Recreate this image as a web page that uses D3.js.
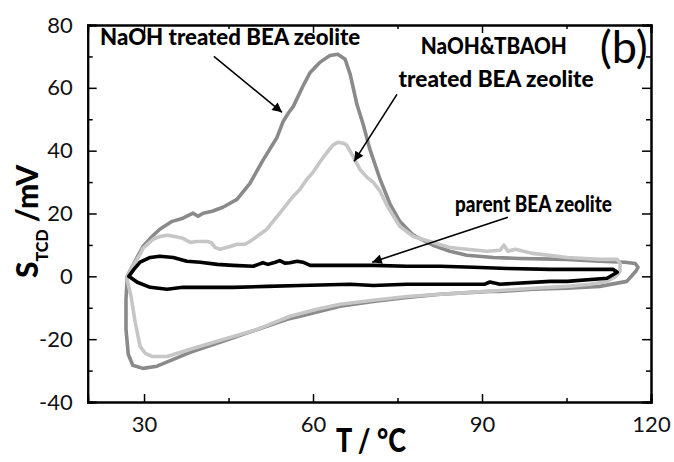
<!DOCTYPE html>
<html>
<head>
<meta charset="utf-8">
<script src="https://cdn.jsdelivr.net/npm/d3@7/dist/d3.min.js"></script>
<style>
  html, body { margin: 0; padding: 0; background: #fff; }
  svg { display: block; }
  .tick text { font-family: Lato, "Open Sans", sans-serif; font-size: 22px; fill: #111; }
</style>
</head>
<body>
<svg id="chart" width="674" height="462"></svg>
<script>
// TCD signal loops (T in °C, S in mV), traced in drawing order around each loop
const naohTreated = [
  [27.0,0],[28.4,4.8],[29.8,9.5],[31.6,13.0],[32.8,15.0],[35.0,17.5],[36.9,18.5],[38.7,20.1],
  [39.6,19.1],[40.5,20.1],[42.1,20.7],[44.0,22.0],[46.5,24.5],[48.8,29.6],[51.1,36.9],[53.6,44.2],
  [54.7,49.3],[55.6,51.9],[56.5,54.1],[58.2,60.5],[59.5,64.9],[61.2,68.1],[63.0,70.3],[64.4,70.7],
  [65.7,69.1],[66.6,64.3],[67.8,54.7],[68.9,48.4],[70.1,40.4],[71.9,30.9],[73.7,22.9],[75.4,17.5],
  [77.8,13.1],[81.3,9.9],[84.3,8.0],[87.3,6.7],[92.0,6.0],[96.7,5.7],[105.1,5.4],[110.9,4.8],
  [115.4,4.5],[117.2,4.1],[117.7,2.9],[117.3,1.6],[115.7,-1.6],[110.9,-3.2],[105.1,-3.8],[99.0,-4.1],
  [93.2,-4.8],[91.4,-4.8],[82.6,-5.7],[76.7,-6.7],[70.7,-8.0],[64.8,-9.5],[57.7,-12.7],[55.4,-13.7],
  [50.1,-16.9],[44.0,-20.7],[38.2,-24.2],[32.3,-28.6],[29.8,-29.3],[28.0,-28.3],[27.2,-24.8],
  [26.8,-16.9],[26.8,-7.3],[27.0,-1.0],[27.0,0]
];

const naohTbaohTreated = [
  [27.0,0],[28.0,3.2],[29.3,7.0],[29.8,8.9],[31.6,11.8],[32.8,12.7],[34.1,13.1],[35.5,12.7],
  [36.9,12.1],[38.2,10.8],[39.4,11.1],[41.2,11.1],[41.9,10.8],[42.6,9.2],[43.5,8.6],[45.3,9.5],
  [46.5,10.2],[47.9,10.2],[48.8,11.1],[50.6,13.4],[51.8,15.0],[54.1,20.1],[56.5,25.5],[57.7,27.7],
  [58.9,30.9],[60.0,33.1],[61.2,36.3],[62.5,39.5],[63.5,41.7],[64.4,42.7],[65.5,42.3],[66.0,41.7],
  [67.1,38.2],[68.3,34.1],[69.6,31.5],[70.7,29.9],[71.9,27.1],[73.2,22.3],[75.4,15.9],[77.8,12.7],
  [81.3,10.8],[84.3,9.2],[87.3,8.6],[90.9,8.0],[93.2,8.3],[93.9,9.9],[94.6,8.0],[95.9,8.6],
  [99.0,7.3],[105.1,6.0],[110.9,5.4],[114.0,5.4],[114.5,4.1],[114.5,1.6],[113.6,-0.3],[112.2,-1.6],
  [109.2,-2.5],[105.1,-3.2],[99.0,-3.8],[93.2,-4.5],[87.9,-5.1],[82.6,-5.7],[76.7,-6.4],[70.7,-7.6],
  [64.8,-8.9],[60.7,-10.5],[55.9,-12.7],[50.1,-16.9],[44.0,-20.1],[38.2,-23.2],[34.1,-25.5],
  [31.4,-25.5],[30.2,-24.5],[29.3,-22.3],[28.4,-14.3],[27.7,-6.4],[27.1,-1.9],[27.0,0]
];

const parentBea = [
  [27.3,0],[28.2,2.2],[29.3,4.5],[31.1,6.0],[32.8,6.4],[35.2,6.0],[37.6,4.8],[40.0,4.5],
  [43.0,3.8],[45.8,3.5],[49.4,3.2],[50.3,3.8],[51.1,4.3],[52.0,3.8],[53.3,4.5],[54.1,5.0],
  [55.0,4.2],[55.9,4.3],[57.2,4.8],[58.2,4.5],[59.5,3.5],[63.5,3.5],[70.7,3.5],[76.7,3.2],
  [82.6,3.2],[88.5,2.9],[94.5,2.5],[102.1,2.2],[110.9,2.2],[113.3,2.2],[114.0,1.3],[112.2,-0.6],
  [105.1,-1.6],[102.1,-1.6],[93.2,-2.5],[91.4,-1.8],[90.5,-2.5],[82.6,-2.5],[76.7,-2.5],
  [70.7,-2.9],[66.6,-2.5],[57.7,-2.9],[51.8,-3.2],[45.8,-3.5],[40.0,-3.5],[36.9,-3.5],
  [34.1,-4.1],[31.1,-3.5],[28.8,-1.9],[27.3,0]
];

// axis ticks
const xMajorTicks = [30, 60, 90, 120];
const xMinorTicks = [45, 75, 105];
const yMajorTicks = [-40, -20, 0, 20, 40, 60, 80];
const yMinorTicks = [-30, -10, 10, 30, 50, 70];

// annotation labels: [text, T, S, anchor, width]
const labelTexts = [
  ["NaOH treated BEA zeolite", 22.2, 73.5, "start", 260],
  ["NaOH&TBAOH", 92.1, 70.7, "middle", 146],
  ["treated BEA zeolite", 92.5, 60.2, "middle", 195],
  ["parent BEA zeolite", 85.2, 20.4, "start", 157]
];
// arrows: [T0, S0, T1, S1]
const arrowLines = [
  [42.4, 70.0, 54.5, 52.2],
  [74.9, 57.9, 67.3, 36.6],
  [94.6, 18.8, 70.5, 4.5]
];

const svg = d3.select("#chart");
const plotLeft = 87.7, plotRight = 651, plotTop = 25, plotBottom = 402;

const x = d3.scaleLinear().domain([20, 120]).range([plotLeft, plotRight]);
const y = d3.scaleLinear().domain([-40, 80]).range([plotBottom, plotTop]);

// axes with inward ticks, mirrored on top/right
function styleAxis(g) {
  g.selectAll(".domain").attr("stroke", "#000").attr("stroke-width", 2);
  g.selectAll(".tick line").attr("stroke", "#000").attr("stroke-width", 1.5);
}
svg.append("g").attr("transform", `translate(0,${plotBottom})`)
  .call(d3.axisBottom(x).tickValues(xMajorTicks).tickSize(-8).tickPadding(14).tickFormat(d3.format("d")))
  .call(styleAxis);
svg.append("g").attr("transform", `translate(0,${plotBottom})`)
  .call(d3.axisBottom(x).tickValues(xMinorTicks).tickSize(-4).tickFormat(""))
  .call(styleAxis);
svg.append("g").attr("transform", `translate(0,${plotTop})`)
  .call(d3.axisTop(x).tickValues(xMajorTicks).tickSize(-8).tickFormat(""))
  .call(styleAxis);
svg.append("g").attr("transform", `translate(0,${plotTop})`)
  .call(d3.axisTop(x).tickValues(xMinorTicks).tickSize(-4).tickFormat(""))
  .call(styleAxis);
svg.append("g").attr("transform", `translate(${plotLeft},0)`)
  .call(d3.axisLeft(y).tickValues(yMajorTicks).tickSize(-9).tickPadding(15).tickFormat(d3.format("d")))
  .call(styleAxis);
svg.append("g").attr("transform", `translate(${plotLeft},0)`)
  .call(d3.axisLeft(y).tickValues(yMinorTicks).tickSize(-5).tickFormat(""))
  .call(styleAxis);
svg.append("g").attr("transform", `translate(${plotRight},0)`)
  .call(d3.axisRight(y).tickValues(yMajorTicks).tickSize(-9).tickFormat(""))
  .call(styleAxis);
svg.append("g").attr("transform", `translate(${plotRight},0)`)
  .call(d3.axisRight(y).tickValues(yMinorTicks).tickSize(-5).tickFormat(""))
  .call(styleAxis);
svg.selectAll(".tick text").text(function() { return this.textContent.replace("\u2212", "-"); });

// curves
const line = d3.line().x(d => x(d[0])).y(d => y(d[1]));
const series = [
  { data: naohTreated, color: "#8a8a8a" },
  { data: naohTbaohTreated, color: "#c6c6c6" },
  { data: parentBea, color: "#000000" }
];
svg.append("g").selectAll("path").data(series).join("path")
  .attr("d", d => line(d.data))
  .attr("fill", "none")
  .attr("stroke", d => d.color)
  .attr("stroke-width", 3.6)
  .attr("stroke-linejoin", "round")
  .attr("stroke-linecap", "round");

// arrows
svg.append("defs").append("marker")
  .attr("id", "head").attr("viewBox", "0 0 10 10")
  .attr("refX", 10).attr("refY", 5)
  .attr("markerWidth", 7).attr("markerHeight", 6)
  .attr("markerUnits", "strokeWidth")
  .attr("orient", "auto")
  .append("path").attr("d", "M0,0 L10,5 L0,10 Z").attr("fill", "#000");
svg.append("g").selectAll("line").data(arrowLines).join("line")
  .attr("x1", d => x(d[0])).attr("y1", d => y(d[1]))
  .attr("x2", d => x(d[2])).attr("y2", d => y(d[3]))
  .attr("stroke", "#000").attr("stroke-width", 1.6)
  .attr("marker-end", "url(#head)");

// labels
svg.append("g").selectAll("text").data(labelTexts).join("text")
  .attr("x", d => x(d[1])).attr("y", d => y(d[2]))
  .attr("text-anchor", d => d[3])
  .attr("textLength", d => d[4])
  .attr("lengthAdjust", "spacingAndGlyphs")
  .style("font-family", "Lato, 'Open Sans', sans-serif")
  .style("font-weight", "900")
  .style("font-size", "22px")
  .text(d => d[0]);

svg.append("text")
  .attr("x", x(110.9)).attr("y", y(67.8))
  .attr("textLength", 48).attr("lengthAdjust", "spacingAndGlyphs")
  .style("font-family", "Lato, 'Open Sans', sans-serif")
  .style("font-size", "44px")
  .text("(b)");

// axis titles
svg.append("text")
  .attr("x", 371).attr("y", 452)
  .attr("text-anchor", "middle")
  .attr("textLength", 70).attr("lengthAdjust", "spacingAndGlyphs")
  .style("font-family", "Lato, 'Open Sans', sans-serif")
  .style("font-weight", "900")
  .style("font-size", "32px")
  .text("T / \u00B0C");

const yTitle = svg.append("text")
  .attr("transform", "translate(38,278) rotate(-90)")
  .style("font-family", "Lato, 'Open Sans', sans-serif")
  .style("font-weight", "900")
  .style("font-size", "30px");
yTitle.append("tspan").text("S");
yTitle.append("tspan").attr("dy", 10).style("font-size", "16px").text("TCD");
yTitle.append("tspan").attr("dy", -10).text(" /mV");
</script>
</body>
</html>
